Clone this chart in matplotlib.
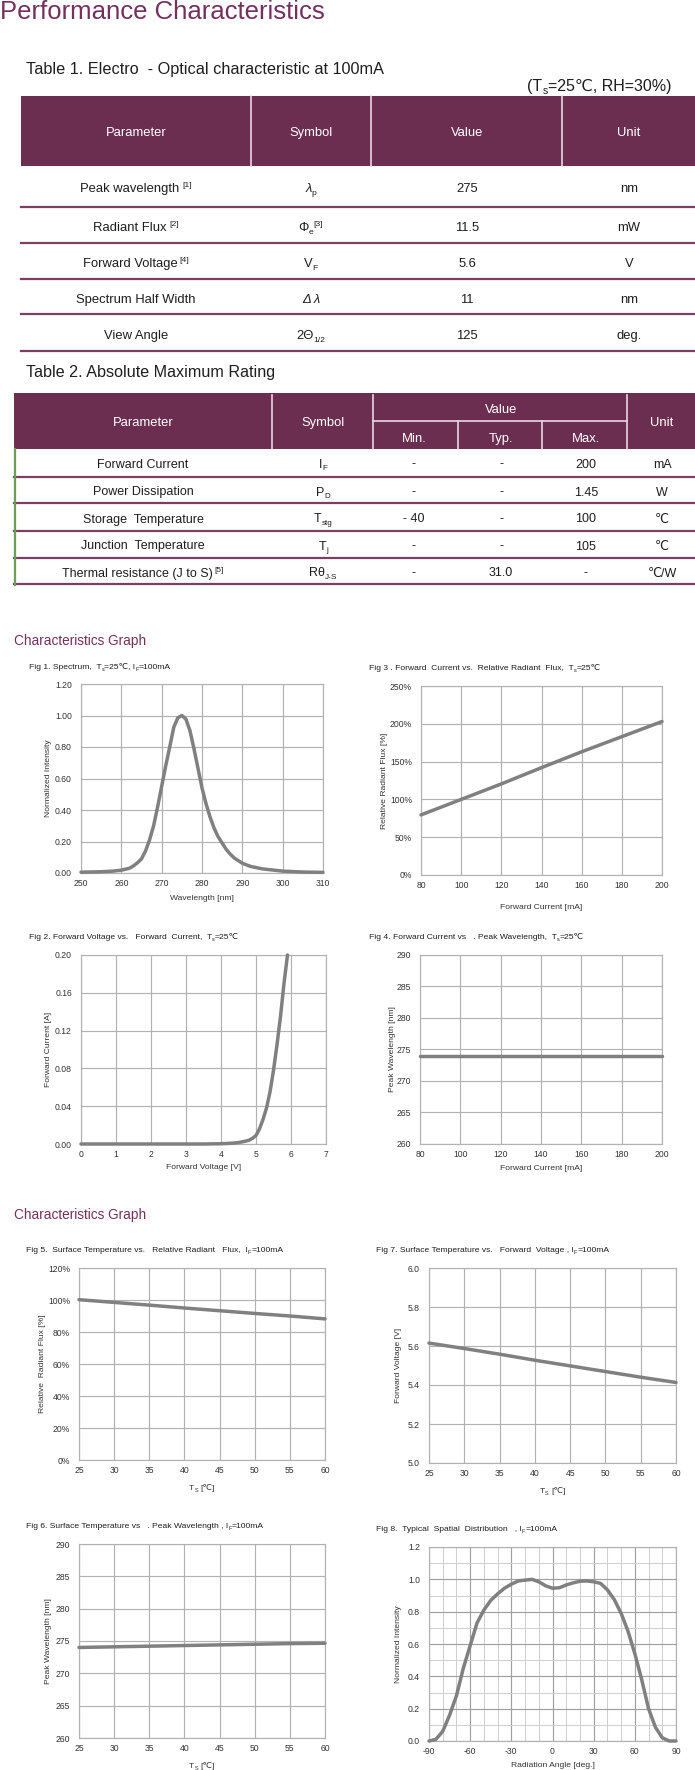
import matplotlib
matplotlib.use('Agg')
import matplotlib.pyplot as plt
from matplotlib.patches import Rectangle
from matplotlib.font_manager import FontProperties
from matplotlib.ticker import MultipleLocator, FuncFormatter

W, H, DPI = 695, 1770, 100
FONTS = ['Liberation Sans', 'DejaVu Sans']
plt.rcParams['font.family'] = FONTS

PURPLE = '#6B2D50'
TITLE_PURPLE = '#74305E'
ROW_LINE = '#7B3F63'
GREEN = '#6A9F5A'
LINE_GRAY = '#808080'
GRID_GRAY = '#B2B2B2'
TEXT_DARK = '#1E1E1E'
AX_TEXT = '#333333'

# ---- table contents ----
T1_HEADERS = ['Parameter', 'Symbol', 'Value', 'Unit']
T1_PARAMS = [[('Peak wavelength', ''), (' [1]', 'sup')],
             [('Radiant Flux', ''), (' [2]', 'sup')],
             [('Forward Voltage', ''), (' [4]', 'sup')],
             [('Spectrum Half Width', '')],
             [('View Angle', '')]]
T1_SYMBOLS = [[('λ', 'it'), ('p', 'sub')],
              [('Φ', ''), ('e', 'sub'), ('[3]', 'sup')],
              [('V', ''), ('F', 'sub')],
              [('Δ λ', 'it')],
              [('2Θ', ''), ('1/2', 'sub')]]
T1_VALUES = ['275', '11.5', '5.6', '11', '125']
T1_UNITS = ['nm', 'mW', 'V', 'nm', 'deg.']

T2_PARAMS = [[('Forward Current', '')],
             [('Power Dissipation', '')],
             [('Storage  Temperature', '')],
             [('Junction  Temperature', '')],
             [('Thermal resistance (J to S)', ''), (' [5]', 'sup')]]
T2_SYMBOLS = [[('I', ''), ('F', 'sub')],
              [('P', ''), ('D', 'sub')],
              [('T', ''), ('stg', 'sub')],
              [('T', ''), ('j', 'sub')],
              [('Rθ', ''), ('J-S', 'sub')]]
T2_MIN = ['-', '-', '- 40', '-', '-']
T2_TYP = ['-', '-', '-', '-', '31.0']
T2_MAX = ['200', '1.45', '100', '105', '-']
T2_UNITS = ['mA', 'W', '℃', '℃', '℃/W']

# ---- graph data ----
SPEC_WL = [250, 255, 258, 260, 262, 263, 264, 265, 266, 267, 268, 269, 270, 271, 272, 273, 274, 275, 276,
           277, 278, 279, 280, 281, 282, 283, 284, 285, 286, 287, 288, 290, 292, 295, 300, 305, 310]
SPEC_I = [0.005, 0.008, 0.012, 0.018, 0.03, 0.045, 0.065, 0.09, 0.14, 0.21, 0.30, 0.42, 0.55, 0.68, 0.80,
          0.925, 0.985, 1.00, 0.978, 0.905, 0.79, 0.665, 0.54, 0.44, 0.355, 0.285, 0.23, 0.19, 0.15, 0.12,
          0.095, 0.062, 0.042, 0.026, 0.012, 0.006, 0.004]

IV_V = [0, 1, 2, 3, 3.5, 4.0, 4.3, 4.5, 4.7, 4.8, 4.9, 5.0, 5.1, 5.2, 5.3, 5.4, 5.5, 5.6, 5.7, 5.8, 5.9]
IV_I = [0, 0, 0, 0, 0, 0.0003, 0.0008, 0.0015, 0.003, 0.004, 0.006, 0.009, 0.016, 0.026, 0.038,
        0.055, 0.078, 0.105, 0.135, 0.17, 0.2]

IF_MA = [80, 100, 120, 140, 160, 180, 200]
IF_FLUX = [79.5, 100, 120.5, 142, 163, 183, 203]
IF_PEAK = [274.0, 274.0, 274.0, 274.0, 274.0, 274.0, 274.0]

TS = [25, 30, 35, 40, 45, 50, 55, 60]
TS_FLUX = [100.2, 98.5, 96.8, 95.0, 93.3, 91.6, 90.0, 88.2]
TS_VF = [5.615, 5.587, 5.558, 5.527, 5.498, 5.469, 5.440, 5.413]
TS_PEAK = [274.0, 274.1, 274.2, 274.3, 274.4, 274.5, 274.6, 274.65]

ANGLE = [-90, -85, -80, -75, -70, -65, -60, -55, -50, -45, -40, -35, -30, -25, -20, -15, -10, -5, 0,
         5, 10, 15, 20, 25, 30, 35, 40, 45, 50, 55, 60, 65, 70, 75, 80, 85, 90]
SPATIAL = [0.0, 0.01, 0.06, 0.16, 0.28, 0.45, 0.59, 0.73, 0.81, 0.87, 0.91, 0.945, 0.97, 0.99, 0.995,
           1.0, 0.985, 0.96, 0.945, 0.948, 0.965, 0.978, 0.988, 0.99, 0.985, 0.975, 0.935, 0.875,
           0.79, 0.68, 0.54, 0.38, 0.2, 0.085, 0.02, 0.0, 0.0]

fig = plt.figure(figsize=(W / DPI, H / DPI), dpi=DPI)
bg = fig.add_axes([0, 0, 1, 1])
bg.set_xlim(0, W)
bg.set_ylim(H, 0)
bg.axis('off')
renderer = fig.canvas.get_renderer()


def text_w(s, size, style='normal'):
    prop = FontProperties(family=FONTS, size=size, style=style)
    return renderer.get_text_width_height_descent(s, prop, False)[0]


def rich(x, y, parts, size, ha='center', color=TEXT_DARK):
    """draw text with sub/superscripts; y = middle of capitals (pixels from top)"""
    px = size * DPI / 72
    base = y + 0.36 * px
    pieces = []
    for s, kind in parts:
        fs = size * 0.65 if kind in ('sub', 'sup') else size
        style = 'italic' if kind == 'it' else 'normal'
        shift = {'sub': 0.22, 'sup': -0.36}.get(kind, 0) * px
        core = s.strip(' ')
        sp = text_w('x x', fs) - text_w('xx', fs)
        lead = (len(s) - len(s.lstrip(' '))) * sp
        trail = (len(s) - len(s.rstrip(' '))) * sp
        w = text_w(core, fs, style) if core else 0
        pieces.append((core, fs, style, shift, lead, w, trail))
    total = sum(p[4] + p[5] + p[6] for p in pieces)
    x0 = {'center': x - total / 2, 'right': x - total}.get(ha, x)
    for core, fs, style, shift, lead, w, trail in pieces:
        x0 += lead
        if core:
            bg.text(x0, base + shift, core, fontsize=fs, style=style, color=color,
                    ha='left', va='baseline')
        x0 += w + trail


# ---- headings ----
bg.text(0, 19, 'Performance Characteristics', fontsize=18.5, color=TITLE_PURPLE, va='baseline')
rich(26, 68, [('Table 1. Electro  - Optical characteristic at 100mA', '')], 11.7, ha='left')
rich(671, 85, [('(T', ''), ('s', 'sub'), ('=25℃, RH=30%)', '')], 11.5, ha='right')

# ---- table 1 ----
t1_cols = [136, 311, 467, 629]
bg.add_patch(Rectangle((21, 96), W - 21, 70, color=PURPLE, lw=0))
for xv in [251, 371, 562]:
    bg.plot([xv, xv], [96, 166], color='#E6D8E0', lw=1.2)
for cx, lab in zip(t1_cols, T1_HEADERS):
    rich(cx, 131, [(lab, '')], 9.4, color='white')
t1_rows = [187, 226, 262, 298, 334]
t1_lines = [207, 243, 279, 314, 351]
for i, yc in enumerate(t1_rows):
    rich(t1_cols[0], yc, T1_PARAMS[i], 9.4)
    rich(t1_cols[1], yc, T1_SYMBOLS[i], 9.4)
    rich(t1_cols[2], yc, [(T1_VALUES[i], '')], 9.4)
    rich(t1_cols[3], yc, [(T1_UNITS[i], '')], 9.4)
    bg.plot([21, W], [t1_lines[i]] * 2, color=ROW_LINE, lw=1.6)

# ---- table 2 ----
rich(26, 371, [('Table 2. Absolute Maximum Rating', '')], 11.6, ha='left')
t2_cols = [143, 323, 414, 501, 586, 662]
bg.add_patch(Rectangle((14, 393), W - 14, 56, color=PURPLE, lw=0))
for xv in [272, 373, 627]:
    bg.plot([xv, xv], [395, 449], color='#E6D8E0', lw=1.2)
for xv in [458, 542]:
    bg.plot([xv, xv], [421, 449], color='#E6D8E0', lw=1.2)
bg.plot([373, 627], [421, 421], color='#E6D8E0', lw=1.2)
rich(t2_cols[0], 421, [('Parameter', '')], 9.4, color='white')
rich(t2_cols[1], 421, [('Symbol', '')], 9.4, color='white')
rich(t2_cols[5], 421, [('Unit', '')], 9.4, color='white')
rich(t2_cols[3], 408, [('Value', '')], 9.4, color='white')
for cx, lab in zip(t2_cols[2:5], ['Min.', 'Typ.', 'Max.']):
    rich(cx, 437, [(lab, '')], 9.4, color='white')
t2_rows = [463, 491, 518, 545, 572]
t2_lines = [477, 503, 531, 558, 584]
for i, yc in enumerate(t2_rows):
    rich(t2_cols[0], yc, T2_PARAMS[i], 9.0)
    rich(t2_cols[1], yc, T2_SYMBOLS[i], 9.0)
    rich(t2_cols[2], yc, [(T2_MIN[i], '')], 9.0)
    rich(t2_cols[3], yc, [(T2_TYP[i], '')], 9.0)
    rich(t2_cols[4], yc, [(T2_MAX[i], '')], 9.0)
    rich(t2_cols[5], yc, [(T2_UNITS[i], '')], 9.0)
    bg.plot([14, W], [t2_lines[i]] * 2, color=ROW_LINE, lw=1.6)
bg.plot([14.5, 14.5], [449, 585], color=GREEN, lw=1.6)

bg.text(14, 645, 'Characteristics Graph', fontsize=9.8, color=TITLE_PURPLE, va='baseline')
bg.text(14, 1219, 'Characteristics Graph', fontsize=9.8, color=TITLE_PURPLE, va='baseline')


# ---- graphs ----
def make_ax(l, t, r, b, xlim, ylim, xstep, ystep, yfmt, title, tx, ty, xlabel, xly, ylabel, ylx):
    ax = fig.add_axes([l / W, 1 - b / H, (r - l) / W, (b - t) / H])
    ax.set_xlim(*xlim)
    ax.set_ylim(*ylim)
    ax.xaxis.set_major_locator(MultipleLocator(xstep))
    ax.yaxis.set_major_locator(MultipleLocator(ystep))
    ax.yaxis.set_major_formatter(FuncFormatter(lambda v, p: yfmt % v))
    ax.xaxis.set_major_formatter(FuncFormatter(lambda v, p: '%d' % round(v)))
    ax.grid(True, color=GRID_GRAY, lw=0.85)
    ax.set_axisbelow(True)
    for s in ax.spines.values():
        s.set_color(GRID_GRAY)
        s.set_linewidth(0.85)
    ax.tick_params(axis='y', length=0, labelsize=6.2, colors=AX_TEXT, pad=6.5)
    ax.tick_params(axis='x', length=0, labelsize=6.2, colors=AX_TEXT, pad=4.5)
    rich(tx, ty, title, 6.1, ha='left', color=TEXT_DARK)
    rich((l + r) / 2, xly, xlabel, 6.1, color=AX_TEXT)
    bg.text(ylx, (t + b) / 2, ylabel, rotation=90, fontsize=6.1, color=AX_TEXT, ha='center', va='center')
    return ax


def curve(ax, x, y):
    ax.plot(x, y, color=LINE_GRAY, lw=2.5, solid_capstyle='round', solid_joinstyle='round',
            clip_on=False, zorder=3)


ax1 = make_ax(81, 684, 323, 873, (250, 310), (0, 1.2), 10, 0.2, '%.2f',
              [('Fig 1. Spectrum,  T', ''), ('s', 'sub'), ('=25℃, I', ''), ('F', 'sub'), ('=100mA', '')],
              29, 666, [('Wavelength [nm]', '')], 897, 'Normalized Intensity', 48)
curve(ax1, SPEC_WL, SPEC_I)

ax3 = make_ax(421, 686, 662, 875, (80, 200), (0, 250), 20, 50, '%d%%',
              [('Fig 3 . Forward  Current vs.  Relative Radiant  Flux,  T', ''), ('s', 'sub'), ('=25℃', '')],
              369, 667, [('Forward Current [mA]', '')], 906, 'Relative Radiant Flux [%]', 385)
curve(ax3, IF_MA, IF_FLUX)

ax2 = make_ax(81, 955, 326, 1144, (0, 7), (0, 0.2), 1, 0.04, '%.2f',
              [('Fig 2. Forward Voltage vs.   Forward  Current,  T', ''), ('s', 'sub'), ('=25℃', '')],
              29, 936, [('Forward Voltage [V]', '')], 1166, 'Forward Current [A]', 48)
curve(ax2, IV_V, IV_I)

ax4 = make_ax(420, 955, 662, 1144, (80, 200), (260, 290), 20, 5, '%d',
              [('Fig 4. Forward Current vs   . Peak Wavelength,  T', ''), ('s', 'sub'), ('=25℃', '')],
              369, 936, [('Forward Current [mA]', '')], 1167, 'Peak Wavelength [nm]', 392)
curve(ax4, IF_MA, IF_PEAK)

ts_label = [('T', ''), ('S', 'sub'), (' [℃]', '')]
ax5 = make_ax(79, 1268, 325, 1460, (25, 60), (0, 120), 5, 20, '%d%%',
              [('Fig 5.  Surface Temperature vs.   Relative Radiant   Flux,  I', ''), ('F', 'sub'),
               ('=100mA', '')],
              26, 1249, ts_label, 1487, 'Relative  Radiant Flux [%]', 42)
curve(ax5, TS, TS_FLUX)

ax7 = make_ax(429, 1268, 676, 1463, (25, 60), (5.0, 6.0), 5, 0.2, '%.1f',
              [('Fig 7. Surface Temperature vs.   Forward  Voltage , I', ''), ('F', 'sub'), ('=100mA', '')],
              376, 1249, ts_label, 1490, 'Forward Voltage [V]', 399)
curve(ax7, TS, TS_VF)

ax6 = make_ax(79, 1544, 325, 1738, (25, 60), (260, 290), 5, 5, '%d',
              [('Fig 6. Surface Temperature vs   . Peak Wavelength , I', ''), ('F', 'sub'), ('=100mA', '')],
              26, 1525, ts_label, 1765, 'Peak Wavelength [nm]', 49)
curve(ax6, TS, TS_PEAK)

ax8 = make_ax(429, 1547, 676, 1741, (-90, 90), (0, 1.2), 30, 0.2, '%.1f',
              [('Fig 8.  Typical  Spatial  Distribution   , I', ''), ('F', 'sub'), ('=100mA', '')],
              376, 1528, [('Radiation Angle [deg.]', '')], 1764, 'Normalized Intensity', 399)
ax8.xaxis.set_minor_locator(MultipleLocator(10))
ax8.yaxis.set_minor_locator(MultipleLocator(0.1))
ax8.tick_params(which='minor', length=0)
ax8.grid(True, which='major', color='#A0A0A0', lw=0.85)
ax8.grid(True, which='minor', color='#D0D0D0', lw=0.75)
curve(ax8, ANGLE, SPATIAL)

fig.savefig('out.png', dpi=DPI, facecolor='white')
